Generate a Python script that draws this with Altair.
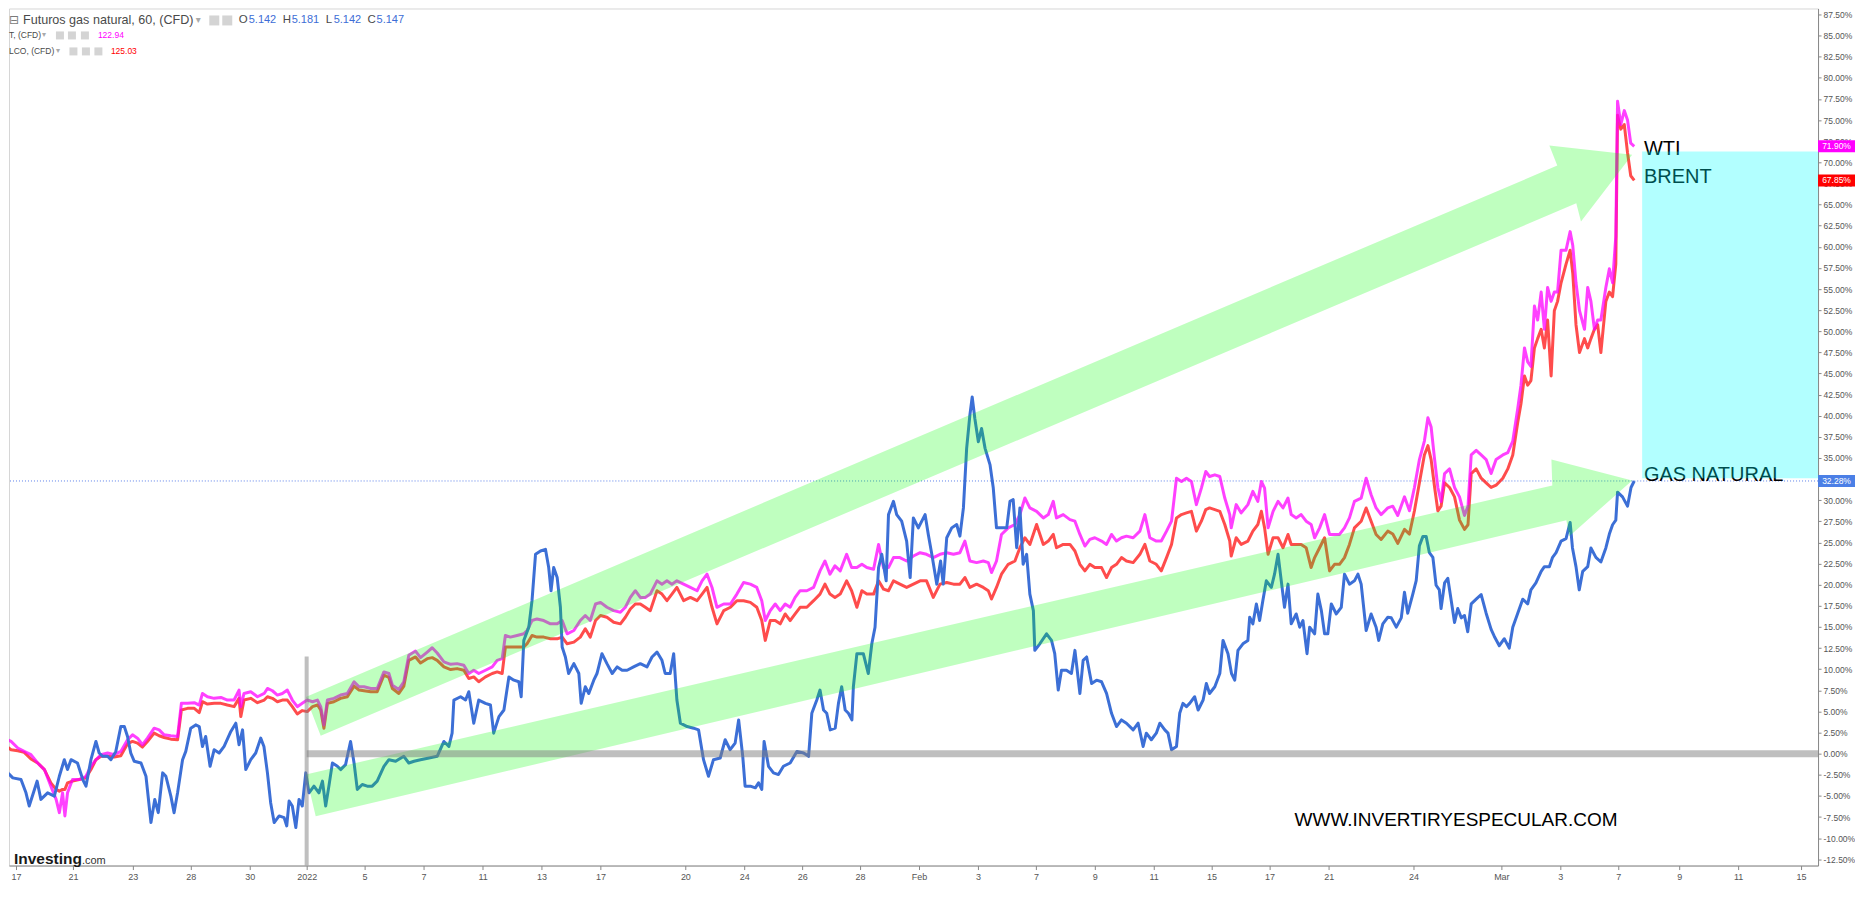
import json
import altair as alt
import pandas as pd

# ---------------- data (x = trading-session index since Dec 17, y = % change) ----------------
gas_dec = [(-0.40,-0.31),(-0.28,-2.27),(-0.11,-2.86),(0.17,-3.06),(0.34,-4.63),(0.45,-6.19),(0.63,-4.23),(0.72,-3.25),
           (0.85,-5.41),(1.08,-4.63),(1.31,-5.02),(1.48,-2.67),(1.65,-0.71),(1.76,-1.88),(1.88,-0.71),(2.10,-1.10),
           (2.28,-3.06),(2.39,-3.84),(2.56,-0.71),(2.73,1.45),(2.84,0.08),(2.96,-0.31),(3.13,-0.31),(3.24,-0.71),
           (3.41,0.27),(3.58,3.21),(3.70,3.21),(3.81,2.04),(3.92,0.08),(4.04,-0.90),(4.27,-1.10),(4.44,-2.67),
           (4.61,-8.15),(4.74,-5.41),(4.86,-6.98),(5.01,-2.27),(5.12,-2.67),(5.29,-5.02),(5.40,-6.98),(5.52,-4.63),
           (5.69,-0.71),(5.80,0.27),(5.97,3.02),(6.14,3.41),(6.26,3.21),(6.37,0.86),(6.48,2.04),(6.63,-1.49),
           (6.77,0.47),(6.94,0.08),(7.11,0.86),(7.34,2.63),(7.51,3.61),(7.62,1.06),(7.74,2.82),(7.85,-1.88),
           (8.02,-0.71),(8.19,0.08),(8.36,1.84),(8.47,0.86),(8.59,-2.27),(8.70,-5.80),(8.82,-8.15),(8.99,-7.37),
           (9.16,-7.57),(9.25,-8.55),(9.33,-5.61),(9.44,-6.19),(9.56,-8.74),(9.67,-5.41),(9.78,-6.19),(9.90,-2.27)]
gas_jan1 = [(10.01,-4.63),(10.18,-3.84),(10.35,-4.63),(10.47,-3.25),(10.58,-6.19),(10.69,-3.84),(10.81,-1.10),
            (10.98,-1.49),(11.09,-1.88),(11.26,-1.29),(11.43,1.45),(11.55,-1.10),(11.66,-4.23),(11.83,-3.65),
            (12.00,-3.84),(12.17,-3.84),(12.34,-3.25),(12.57,-1.49),(12.74,-0.71),(12.97,-0.90),(13.25,-0.31),
            (13.42,-1.10),(13.60,-0.90),(13.82,-0.71),(14.11,-0.51),(14.39,-0.31),(14.62,1.45),(14.79,0.86),
            (14.90,2.43),(14.96,6.35),(15.19,6.74),(15.36,6.35),(15.47,7.33),(15.64,3.61),(15.81,6.35),(16.04,5.96),
            (16.21,5.76),(16.32,2.43),(16.50,4.39),(16.67,5.17),(16.84,9.09),(17.01,8.70),(17.18,8.51),(17.26,6.74),
            (17.35,13.41),(17.52,14.97),(17.63,18.11),(17.75,23.60),(17.92,23.99),(18.09,24.19),(18.20,22.03),
            (18.28,19.29),(18.37,22.03),(18.49,20.85),(18.60,17.33),(18.66,12.62),(18.77,11.45),(18.88,9.49),
            (19.06,10.66),(19.23,9.49),(19.31,5.96),(19.45,7.92),(19.57,7.13),(19.74,8.70),(19.85,9.49)]
gas_jan2 = [(20.02,11.84),(20.19,10.66),(20.37,9.49),(20.54,10.27),(20.71,9.88),(20.88,9.88),(21.10,10.27),
            (21.33,10.66),(21.56,10.27),(21.73,11.45),(21.90,12.03),(22.07,11.05),(22.18,9.49),(22.35,9.49),
            (22.47,11.84),(22.58,6.35),(22.70,3.61),(22.93,3.21),(23.15,3.02),(23.32,2.82),(23.49,-0.71),
            (23.66,-2.67),(23.83,-0.71),(24.06,-0.51),(24.23,1.65),(24.40,0.47),(24.57,1.25),(24.69,4.00),
            (24.83,-0.31),(24.91,-3.84),(25.09,-3.84),(25.26,-4.04),(25.37,-3.45),(25.48,-4.23),(25.56,1.45),
            (25.71,-1.49),(25.88,-2.27),(26.05,-2.47),(26.22,-1.49),(26.45,-1.10),(26.68,0.27),(26.91,0.08),
            (27.08,-0.31),(27.19,4.78),(27.36,6.35),(27.47,7.53),(27.59,5.17),(27.70,4.78),(27.82,2.82),
            (27.99,3.02),(28.10,5.96),(28.21,7.92),(28.33,5.17),(28.44,4.78),(28.56,4.00),(28.61,7.92),
            (28.73,11.84),(28.95,11.84),(29.12,9.49),(29.24,13.01),(29.35,14.97),(29.47,22.03),(29.58,23.60),
            (29.73,20.46),(29.81,28.30),(29.98,29.87),(30.09,28.30),(30.26,27.52),(30.43,25.17),(30.55,20.85),
            (30.66,27.91),(30.83,26.73)]
gas_feb = [(31.06,28.30),(31.17,25.95),(31.29,23.60),(31.46,20.07),(31.59,22.81),(31.68,20.07),(31.80,25.56),
           (31.97,26.73),(32.14,27.13),(32.25,25.75),(32.37,29.09),(32.48,36.14),(32.59,40.06),(32.67,42.22),
           (32.76,39.67),(32.88,36.93),(32.99,38.49),(33.11,36.14),(33.28,34.18),(33.39,31.44),(33.50,26.73),
           (33.68,26.73),(33.85,26.73),(33.96,29.87),(34.07,30.07),(34.19,24.38),(34.30,29.09),(34.41,22.42),
           (34.53,23.60),(34.64,18.89),(34.76,16.93),(34.81,12.23),(34.98,13.01),(35.21,14.19),(35.38,13.41),
           (35.49,11.84),(35.61,7.53),(35.72,9.88),(35.89,9.88),(36.06,9.49),(36.18,12.23),(36.35,7.13),
           (36.46,11.05),(36.58,11.45),(36.75,8.31),(36.92,8.70),(37.09,8.51),(37.26,7.13),(37.43,4.78),
           (37.60,3.21),(37.77,4.00),(37.94,3.61),(38.17,2.82),(38.34,3.61),(38.51,0.86),(38.62,2.43),
           (38.79,1.65),(38.96,2.43),(39.08,3.61),(39.25,2.82),(39.36,2.43),(39.48,0.47),(39.65,0.86),
           (39.76,4.78),(39.87,5.96),(39.99,5.57),(40.10,5.96),(40.27,6.74),(40.39,5.17),(40.56,6.35),
           (40.67,8.31),(40.78,7.13),(40.96,7.92),(41.13,9.49),(41.24,13.41),(41.41,11.84),(41.53,9.49),
           (41.64,8.70),(41.75,12.23),(41.92,13.01),(42.09,13.41),(42.15,16.15),(42.26,15.37),(42.38,17.72),
           (42.49,15.76),(42.60,18.11),(42.72,20.46),(42.89,19.68),(43.00,21.25),(43.12,23.60),(43.23,20.46),
           (43.34,17.33),(43.46,20.07),(43.57,15.37),(43.74,16.54),(43.86,14.97),(43.97,15.76),(44.11,11.84),
           (44.20,14.97),(44.37,14.19),(44.48,18.89),(44.60,16.93),(44.71,14.19),(44.82,14.19),(44.94,17.72),
           (45.11,16.54),(45.28,17.33),(45.39,21.25),(45.56,20.07),(45.73,20.46),(45.85,21.25),(45.96,20.07),
           (46.13,14.58),(46.30,16.54),(46.47,14.97),(46.56,13.41),(46.70,15.37),(46.87,16.15)]
gas_mar = [(46.99,16.08),(47.16,14.98),(47.33,16.08),(47.44,19.11),(47.55,16.63),(47.72,18.84),(47.84,20.49),
           (47.95,24.62),(48.07,25.72),(48.18,25.72),(48.29,23.79),(48.41,23.24),(48.52,19.94),(48.63,19.39),
           (48.69,17.18),(48.81,20.21),(48.92,20.77),(49.03,18.29),(49.15,15.53),(49.26,17.18),(49.38,16.08),
           (49.49,16.36),(49.60,14.43),(49.72,17.74),(49.89,18.29),(50.06,18.84),(50.23,16.63),(50.40,14.71),
           (50.51,13.88),(50.68,12.78),(50.85,13.61),(51.02,12.50),(51.14,14.98),(51.31,16.63),(51.48,18.29),
           (51.65,17.74),(51.76,19.39),(51.93,20.21),(52.11,21.59),(52.22,22.14),(52.39,22.14),(52.50,23.24),
           (52.62,23.79),(52.79,25.17),(52.96,25.45),(53.10,27.37),(53.18,24.35),(53.30,22.14),(53.41,19.39),
           (53.53,21.59),(53.70,22.14),(53.81,24.35),(53.98,23.24),(54.15,22.69),(54.32,24.35),(54.44,26.00),
           (54.55,27.10),(54.66,27.65),(54.72,30.96),(54.89,30.40),(55.06,29.30),(55.18,31.51),(55.29,32.28)]

# (x, WTI, Brent)
oil_dec = [(-0.40,1.84,1.06),(-0.17,1.45,0.47),(0.06,0.67,0.35),(0.28,0.27,0.16),(0.51,-0.12,-0.63),(0.74,-1.10,-1.10),
           (0.97,-1.88,-1.88),(1.19,-3.84,-3.45),(1.37,-5.41,-4.23),(1.48,-6.98,-4.43),(1.59,-4.63,-4.23),
           (1.67,-7.37,-4.23),(1.76,-4.63,-3.45),(1.93,-3.06,-3.25),(2.16,-3.06,-3.06),(2.39,-2.67,-2.86),
           (2.56,-1.49,-1.88),(2.73,-0.71,-0.71),(2.90,-0.12,-0.31),(3.13,0.08,-0.31),(3.36,-0.12,-0.39),
           (3.58,0.27,-0.24),(3.81,1.65,1.18),(3.98,2.23,1.45),(4.15,1.84,1.25),(4.32,1.06,0.78),(4.49,1.84,1.45),
           (4.72,3.02,2.43),(4.89,2.82,2.12),(5.06,2.23,1.92),(5.29,2.12,1.72),(5.52,2.04,1.65),(5.65,5.96,5.17),
           (5.86,5.96,5.37),(6.09,6.04,5.37),(6.26,5.76,4.86),(6.37,7.13,6.15),(6.54,6.74,5.88),(6.77,6.55,5.96),
           (7.00,6.66,5.96),(7.22,6.35,5.76),(7.45,6.35,5.57),(7.62,7.53,6.55),(7.68,5.57,4.39),(7.79,7.13,6.35),
           (8.02,7.33,6.55),(8.25,6.74,6.04),(8.48,7.13,6.35),(8.59,7.72,6.74),(8.76,7.45,6.55),(8.93,6.94,6.15),
           (9.10,7.13,6.35),(9.27,7.53,6.35),(9.44,6.35,5.57),(9.61,5.57,4.70),(9.78,5.96,5.10),(9.95,6.35,4.98)]
oil_jan = [(10.13,6.15,5.57),(10.30,6.35,5.76),(10.41,5.57,5.17),(10.52,3.41,3.02),(10.64,6.35,5.96),(10.86,6.55,6.15),
           (11.09,6.94,6.55),(11.32,7.13,6.74),(11.55,8.51,8.00),(11.72,7.92,7.53),(11.89,7.92,7.45),(12.12,7.72,7.33),
           (12.34,7.72,7.33),(12.57,9.68,9.29),(12.74,9.49,9.02),(12.86,8.11,7.72),(13.08,7.61,7.13),(13.25,8.51,8.00),
           (13.42,11.64,11.05),(13.65,12.15,11.45),(13.82,11.37,10.74),(14.05,12.03,11.25),(14.22,12.54,11.37),
           (14.39,11.92,11.05),(14.62,10.86,10.27),(14.85,10.58,9.96),(15.07,10.66,10.07),(15.30,10.47,9.88),
           (15.47,9.49,8.90),(15.64,9.88,9.09),(15.81,9.49,8.51),(16.04,9.88,9.09),(16.27,10.27,9.49),(16.44,11.05,9.68),
           (16.61,11.25,9.49),(16.72,13.99,12.62),(16.89,13.80,12.62),(17.12,13.99,12.62),(17.35,14.19,12.62),
           (17.46,14.58,13.01),(17.63,15.76,13.99),(17.80,15.95,13.80),(18.03,15.76,13.80),(18.26,15.37,13.60),
           (18.49,15.37,13.60),(18.66,15.76,13.80),(18.83,14.19,13.01),(19.06,14.58,13.21),(19.28,15.76,13.80),
           (19.45,16.35,14.78),(19.62,15.76,13.80),(19.80,17.72,15.76),(19.97,17.91,16.35),(20.19,17.33,16.15),
           (20.42,16.93,15.56),(20.65,16.74,15.37),(20.82,17.33,16.15),(20.99,18.50,17.13),(21.16,19.29,17.72),
           (21.33,18.50,17.72),(21.50,18.50,17.33),(21.67,18.89,16.93),(21.90,20.46,19.29),(22.07,20.07,18.89),
           (22.24,20.46,18.11),(22.41,20.07,18.89),(22.58,20.46,19.68),(22.81,20.07,18.11),(23.04,19.68,18.50),
           (23.27,19.29,18.11),(23.44,20.46,18.89),(23.61,21.25,19.68),(23.78,19.68,17.33),(23.95,17.33,15.37),
           (24.18,17.72,16.93),(24.41,17.72,17.33),(24.63,18.89,18.11),(24.86,20.27,18.11),(25.09,20.07,17.91),
           (25.31,19.68,17.33),(25.48,18.11,15.76),(25.60,15.76,13.41),(25.77,16.93,15.76),(25.94,17.72,15.76),
           (26.11,16.93,15.37),(26.28,17.72,16.54),(26.45,17.33,15.76),(26.62,18.50,16.54),(26.79,19.29,17.33),
           (27.02,19.29,17.33),(27.25,19.68,18.11),(27.47,21.64,18.89),(27.64,22.81,20.07),(27.81,21.25,18.89),
           (27.98,22.23,18.50),(28.16,21.64,18.89),(28.38,23.60,20.46),(28.55,22.03,19.29),(28.73,22.03,17.33),
           (28.90,22.42,19.29),(29.07,22.03,18.89),(29.30,21.83,18.89),(29.47,24.77,20.46),(29.64,22.03,19.48),
           (29.81,22.03,19.29),(29.98,23.21,20.46),(30.20,23.21,20.07),(30.43,22.81,19.68),(30.66,23.40,20.07),
           (30.89,23.79,20.46)]
oil_feb = [(31.11,23.60,20.46),(31.34,23.21,18.50),(31.57,23.60,20.07),(31.80,23.79,20.27),(32.03,23.60,20.07),
           (32.25,23.79,20.07),(32.42,25.17,20.85),(32.59,22.81,19.68),(32.82,22.62,20.07),(33.05,22.81,19.68),
           (33.22,22.62,19.29),(33.33,21.44,18.31),(33.50,22.81,19.68),(33.67,25.95,21.25),(33.90,26.73,22.42),
           (34.13,27.13,22.81),(34.30,28.30,24.38),(34.47,30.26,25.56),(34.64,29.09,24.77),(34.87,28.69,27.13),
           (35.10,27.91,24.77),(35.27,28.30,25.17),(35.44,29.87,25.95),(35.55,27.91,24.38),(35.78,28.30,24.77),
           (36.01,27.71,24.77),(36.18,27.52,23.99),(36.35,25.95,22.42),(36.52,24.58,21.64),(36.69,25.36,22.42),
           (36.86,25.56,22.03),(37.09,25.17,22.03),(37.26,24.77,20.85),(37.43,25.95,22.03),(37.60,25.17,22.42),
           (37.77,25.56,23.21),(37.94,25.75,22.81),(38.17,25.56,22.62),(38.40,26.34,23.60),(38.57,28.30,24.77),
           (38.74,25.56,22.81),(38.96,25.17,22.42),(39.13,25.17,21.64),(39.31,26.34,23.21),(39.48,27.52,24.77),
           (39.65,32.61,27.91),(39.82,32.22,28.30),(39.99,32.61,28.50),(40.16,32.22,28.69),(40.33,29.48,26.34),
           (40.50,31.44,27.52),(40.65,33.40,28.89),(40.78,32.81,29.09),(40.96,33.01,28.89),(41.13,32.81,28.69),
           (41.30,30.26,27.13),(41.47,28.30,25.17),(41.52,26.73,23.40),(41.69,29.48,25.56),(41.86,28.50,24.77),
           (42.09,29.48,25.17),(42.26,31.05,26.34),(42.43,29.87,27.13),(42.55,32.22,28.69),(42.66,31.44,26.73),
           (42.78,26.73,23.60),(42.95,28.69,25.56),(43.12,29.87,25.56),(43.29,29.09,24.38),(43.46,30.26,25.95),
           (43.57,28.30,24.77),(43.74,27.91,24.77),(43.91,28.30,24.77),(44.08,27.52,24.38),(44.25,27.13,22.03),
           (44.37,25.56,23.21),(44.54,26.73,24.38),(44.71,28.30,25.56),(44.88,25.95,21.64),(45.05,25.95,22.42),
           (45.22,25.95,22.42),(45.39,26.73,23.21),(45.56,27.91,24.77),(45.73,29.87,26.73),(45.96,30.26,27.52),
           (46.13,32.61,29.09),(46.30,30.65,27.52),(46.47,29.09,25.95),(46.64,28.30,25.36),(46.87,29.09,26.34)]
oil_mar = [(47.04,29.30,26.00),(47.21,28.20,24.90),(47.44,30.40,26.55),(47.61,28.75,26.00),(47.78,31.51,28.75),
           (47.95,34.81,32.06),(48.12,37.01,35.36),(48.24,39.77,36.46),(48.35,38.67,34.81),(48.47,34.81,31.51),
           (48.58,31.51,28.75),(48.69,29.85,29.30),(48.81,33.16,32.06),(48.98,33.71,31.51),(49.15,31.51,30.40),
           (49.32,30.40,27.65),(49.49,28.20,26.55),(49.61,29.30,27.10),(49.72,35.36,33.16),(49.89,35.91,33.71),
           (50.06,35.36,32.61),(50.23,34.81,32.06),(50.40,33.16,31.51),(50.57,34.81,31.78),(50.80,35.36,32.61),
           (50.97,35.64,33.71),(51.14,37.01,35.36),(51.31,40.87,39.22),(51.42,43.62,41.42),(51.54,48.03,44.72),
           (51.65,46.38,43.62),(51.76,45.83,44.17),(51.88,52.99,48.03),(51.99,51.33,49.13),(52.11,54.64,50.23),
           (52.22,50.23,48.03),(52.33,55.19,51.33),(52.45,53.54,44.72),(52.56,54.64,52.44),(52.67,54.64,53.54),
           (52.79,59.60,55.74),(52.96,59.60,57.94),(53.10,61.80,59.60),(53.19,60.15,56.84),(53.30,55.74,50.78),
           (53.42,52.44,47.48),(53.59,50.23,49.13),(53.70,55.19,48.03),(53.81,53.54,49.13),(53.93,50.23,50.23),
           (54.04,51.33,50.78),(54.15,51.33,47.48),(54.32,55.19,53.54),(54.44,57.39,54.64),(54.55,55.74,54.09),
           (54.66,61.25,57.94),(54.72,77.22,75.57),(54.83,74.47,73.92),(54.95,76.12,74.47),(55.06,75.02,71.16),
           (55.17,72.26,68.41),(55.29,71.90,67.85)]

xtick_pos = [0.00, 1.95, 3.99, 5.97, 7.99, 9.93, 11.91, 13.92, 15.94, 17.95, 19.97, 22.87, 24.88, 26.86, 28.84,
             30.85, 32.87, 34.85, 36.86, 38.87, 40.85, 42.83, 44.85, 47.75, 50.75, 52.76, 54.74, 56.83, 58.84, 60.99]
xtick_lab = ["17", "21", "23", "28", "30", "2022", "5", "7", "11", "13", "17", "20", "24", "26", "28",
             "Feb", "3", "7", "9", "11", "15", "17", "21", "24", "Mar", "3", "7", "9", "11", "15"]

# drawn annotations (data units)
arrow_up_x = [9.90, 52.66, 52.39, 55.22, 53.47, 53.31, 10.41]
arrow_up_y = [6.70, 69.61, 72.00, 70.91, 62.99, 65.14, 2.12]
arrow_dn_x = [9.90, 52.49, 52.46, 55.22, 53.07, 52.97, 10.24]
arrow_dn_y = [-2.47, 31.75, 34.81, 32.34, 25.75, 27.63, -7.41]
zone_x = [55.56, 61.57]
zone_y = [32.6, 71.27]
year_start = 9.93
year_line_top = 11.5
label_names = ["WTI", "BRENT", "GAS NATURAL"]
label_y = [71.6, 68.3, 33.0]
label_x = 55.62
watermark_pos = (49.2, -7.9)

# ---------------- frames ----------------
gas_df = pd.DataFrame(gas_dec + gas_jan1 + gas_jan2 + gas_feb + gas_mar, columns=["t", "v"])
oil_df = pd.DataFrame(oil_dec + oil_jan + oil_feb + oil_mar, columns=["t", "wti", "brent"])

X_DOM = [-0.24, 61.57]
Y_DOM = [-13.24, 88.21]
W, H = 1811, 858
xs = alt.Scale(domain=X_DOM, nice=False, zero=False)
ys = alt.Scale(domain=Y_DOM, nice=False, zero=False)
FONT = "Liberation Sans"

x_label_expr = f"{json.dumps(xtick_lab)}[indexof({json.dumps(xtick_pos)}, datum.value)]"
y_vals = [-12.5 + 2.5 * i for i in range(41)]
y_label_expr = "(datum.value < 0 ? '-' : '') + format(abs(datum.value), '.2f') + '%'"

x_axis = alt.Axis(values=xtick_pos, labelExpr=x_label_expr, title=None, grid=False, labelFlush=False,
                  labelOverlap=False, labelFont=FONT, labelFontSize=9, labelColor="#555555",
                  tickColor="#888888", tickSize=4, domainColor="#888888", labelPadding=3)
y_axis = alt.Axis(orient="right", values=y_vals, labelExpr=y_label_expr, title=None, grid=False,
                  labelFlush=False, labelOverlap=False, labelFont=FONT, labelFontSize=8.5,
                  labelColor="#555555", tickColor="#888888", tickSize=3, domainColor="#888888",
                  labelPadding=2)


def X(f):
    return alt.X(f, scale=xs, axis=x_axis)


def Y(f):
    return alt.Y(f, scale=ys, axis=y_axis)


gas_last = gas_df["v"].iloc[-1]
wti_last = oil_df["wti"].iloc[-1]
brent_last = oil_df["brent"].iloc[-1]

LW = 3

dotted = alt.Chart(pd.DataFrame({"v": [gas_last]})).mark_rule(
    color="#5a80ea", strokeDash=[1, 2], strokeWidth=1).encode(y=Y("v:Q"))

brent_line = alt.Chart(oil_df).mark_line(color="#ff0000", opacity=0.7, strokeWidth=LW, strokeJoin="round",
                                         clip=True).encode(x=X("t:Q"), y=Y("brent:Q"))
wti_line = alt.Chart(oil_df).mark_line(color="#ff00ff", opacity=0.75, strokeWidth=LW, strokeJoin="round",
                                       clip=True).encode(x=X("t:Q"), y=Y("wti:Q"))
gas_line = alt.Chart(gas_df).mark_line(color="#3c6fd6", strokeWidth=LW, strokeJoin="round", clip=True).encode(
    x=X("t:Q"), y=Y("v:Q"))

arrows_df = pd.DataFrame({
    "arrow": ["up"] * len(arrow_up_x) + ["dn"] * len(arrow_dn_x),
    "i": list(range(len(arrow_up_x))) + list(range(len(arrow_dn_x))),
    "t": arrow_up_x + arrow_dn_x,
    "v": arrow_up_y + arrow_dn_y,
})
arrows = alt.Chart(arrows_df).mark_line(filled=True, interpolate="linear-closed", color="#00ff00",
                                        opacity=0.25, strokeWidth=0).encode(
    x=X("t:Q"), y=Y("v:Q"), order=alt.Order("i:Q"), detail="arrow:N")

zero_line = alt.Chart(pd.DataFrame({"t": [year_start], "t2": [X_DOM[1]], "v": [0.0]})).mark_rule(
    color="#808080", opacity=0.5, strokeWidth=7).encode(x=X("t:Q"), x2="t2:Q", y=Y("v:Q"))
year_line = alt.Chart(pd.DataFrame({"t": [year_start], "v": [year_line_top], "v2": [Y_DOM[0]]})).mark_rule(
    color="#808080", opacity=0.5, strokeWidth=4).encode(x=X("t:Q"), y=Y("v:Q"), y2="v2:Q")

labels = alt.Chart(pd.DataFrame({"name": label_names, "v": label_y, "t": [label_x] * 3})).mark_text(
    align="left", baseline="middle", font=FONT, fontSize=20, color="#000000").encode(
    x=X("t:Q"), y=Y("v:Q"), text="name:N")

zone = alt.Chart(pd.DataFrame({"t": [zone_x[0]], "t2": [zone_x[1]], "v": [zone_y[0]], "v2": [zone_y[1]]})).mark_rect(
    color="#00ffff", opacity=0.3).encode(x=X("t:Q"), x2="t2:Q", y=Y("v:Q"), y2="v2:Q")

price_df = pd.DataFrame({
    "v": [wti_last, brent_last, gas_last],
    "c": ["#ff00ff", "#ff0000", "#4b7fe6"],
})
price_df["txt"] = price_df["v"].map(lambda z: f"{z:.2f}%")
box_shape = "M-1,-0.324L1,-0.324L1,0.324L-1,0.324Z"
price_box = alt.Chart(price_df).mark_point(shape=box_shape, size=1369, filled=True, opacity=1,
                                           strokeWidth=0).encode(
    x=alt.value(W + 18.5), y=Y("v:Q"), color=alt.Color("c:N", scale=None))
price_txt = alt.Chart(price_df).mark_text(color="white", font=FONT, fontSize=8.5, align="center",
                                          baseline="middle").encode(
    x=alt.value(W + 18.5), y=Y("v:Q"), text="txt:N")

watermark = alt.Chart(pd.DataFrame({"t": [watermark_pos[0]], "v": [watermark_pos[1]],
                                    "s": ["WWW.INVERTIRYESPECULAR.COM"]})).mark_text(
    align="center", baseline="middle", font=FONT, fontSize=19, color="#000000").encode(
    x=X("t:Q"), y=Y("v:Q"), text="s:N")

one = pd.DataFrame({"k": [0]})


def txt(s, x, y, size, color, weight="normal", font=FONT, align="left", baseline="middle"):
    return alt.Chart(one).mark_text(text=s, font=font, fontSize=size, color=color, fontWeight=weight,
                                    align=align, baseline=baseline).encode(x=alt.value(x), y=alt.value(y))


def box(x, y, s, color="#d4d4d4"):
    return alt.Chart(one).mark_square(size=s * s, color=color, opacity=1, filled=True).encode(
        x=alt.value(x), y=alt.value(y))


header = [
    txt("⊟", 0, 12, 12, "#7a7a7a", font="DejaVu Sans"),
    txt("Futuros gas natural, 60, (CFD)", 14, 12, 12.6, "#4a4a4a"),
    txt("▾", 187, 12, 10, "#aaaaaa", font="DejaVu Sans"),
    box(205.5, 12, 10), box(218.5, 12, 10),
    txt("O", 230, 12, 11.5, "#4a4a4a"), txt("5.142", 240, 12, 11, "#3d6dd6"),
    txt("H", 274, 12, 11.5, "#4a4a4a"), txt("5.181", 283, 12, 11, "#3d6dd6"),
    txt("L", 317, 12, 11.5, "#4a4a4a"), txt("5.142", 325, 12, 11, "#3d6dd6"),
    txt("C", 359, 12, 11.5, "#4a4a4a"), txt("5.147", 368, 12, 11, "#3d6dd6"),
    txt("T, (CFD)", 0, 27, 8.5, "#4a4a4a"),
    txt("▾", 33, 27, 8, "#aaaaaa", font="DejaVu Sans"),
    box(51, 27, 8), box(63, 27, 8), box(76, 27, 8),
    txt("122.94", 89, 27, 8.5, "#ff00ff"),
    txt("LCO, (CFD)", 0, 43, 8.5, "#4a4a4a"),
    txt("▾", 47, 43, 8, "#aaaaaa", font="DejaVu Sans"),
    box(64.5, 43, 8), box(77, 43, 8), box(89.5, 43, 8),
    txt("125.03", 102, 43, 8.5, "#ff0000"),
    txt("Investing", 5, 856, 15.5, "#1a1a1a", weight="bold", baseline="alphabetic"),
    txt(".com", 73, 856, 11, "#333333", baseline="alphabetic"),
]

chart = alt.layer(
    dotted, brent_line, wti_line, gas_line, arrows, zero_line, year_line,
    labels, zone, price_box, price_txt, watermark, *header
).properties(width=W, height=H, padding=0, background="white").configure_view(
    stroke="#d6d6d6", strokeWidth=1)

chart.save("out.html", embed_options={"renderer": "svg", "actions": False})
